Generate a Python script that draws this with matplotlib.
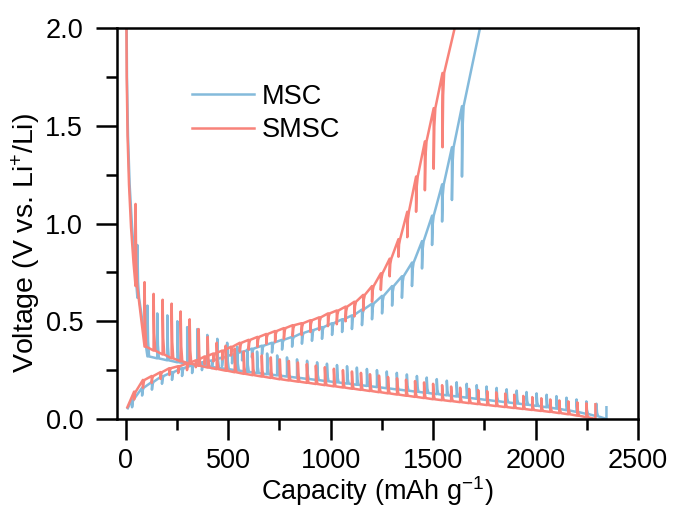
import matplotlib
matplotlib.use("Agg")
import matplotlib.pyplot as plt
from matplotlib.ticker import MultipleLocator

plt.rcParams['font.family'] = ['Liberation Sans', 'DejaVu Sans']
plt.rcParams['mathtext.fontset'] = 'custom'
plt.rcParams['mathtext.rm'] = 'Liberation Sans'
plt.rcParams['mathtext.it'] = 'Liberation Sans:italic'

# GITT data: pulse-end capacity, pulse-end voltage (base), relaxed voltage (tip)
# MSC discharge
msc_dis_head_c = [4, 6, 11, 19, 31, 45]
msc_dis_head_v = [2.1, 1.75, 1.45, 1.2, 0.98, 0.78]
msc_dis_c = [57, 106, 154, 203, 252, 300, 349, 398, 447, 495,
             544, 593, 641, 690, 739, 787, 836, 885, 934, 982,
             1031, 1080, 1128, 1177, 1226, 1274, 1323, 1372, 1421, 1469,
             1518, 1567, 1615, 1664, 1713, 1761, 1810, 1859, 1908, 1956,
             2005, 2054, 2102, 2151, 2200, 2248, 2297, 2346]
msc_dis_base = [0.62, 0.32, 0.31, 0.30, 0.29, 0.283, 0.276, 0.269, 0.262, 0.255,
                0.248, 0.241, 0.235, 0.229, 0.223, 0.217, 0.211, 0.205, 0.199, 0.193,
                0.187, 0.181, 0.175, 0.169, 0.163, 0.157, 0.151, 0.145, 0.139, 0.133,
                0.127, 0.121, 0.115, 0.109, 0.103, 0.097, 0.091, 0.085, 0.079, 0.073,
                0.067, 0.06, 0.053, 0.045, 0.036, 0.026, 0.014, 0.0]
msc_dis_tip = [0.89, 0.58, 0.54, 0.53, 0.50, 0.47, 0.46, 0.43, 0.41, 0.39,
               0.37, 0.355, 0.345, 0.335, 0.325, 0.315, 0.305, 0.298, 0.29, 0.283,
               0.276, 0.27, 0.263, 0.256, 0.25, 0.243, 0.236, 0.228, 0.22, 0.212,
               0.204, 0.196, 0.188, 0.18, 0.173, 0.166, 0.159, 0.152, 0.145, 0.138,
               0.131, 0.124, 0.117, 0.109, 0.1, 0.09, 0.078, 0.06]

# MSC charge
msc_chg_head_c = [10]
msc_chg_head_v = [0.055]
msc_chg_c = [31, 80, 128, 177, 226, 275, 324, 372, 421, 470,
             519, 568, 616, 665, 714, 763, 812, 860, 909, 958,
             1007, 1056, 1104, 1153, 1202, 1251, 1300, 1348, 1397, 1446,
             1495, 1544, 1592, 1641]
msc_chg_base = [0.10, 0.16, 0.19, 0.22, 0.24, 0.26, 0.275, 0.29, 0.30, 0.315,
                0.33, 0.345, 0.36, 0.375, 0.39, 0.405, 0.42, 0.44, 0.455, 0.47,
                0.49, 0.51, 0.53, 0.56, 0.59, 0.63, 0.68, 0.73, 0.80, 0.91,
                1.04, 1.20, 1.39, 1.60]
msc_chg_tip = [0.06, 0.12, 0.15, 0.18, 0.20, 0.22, 0.235, 0.25, 0.26, 0.27,
               0.285, 0.30, 0.315, 0.33, 0.34, 0.355, 0.37, 0.385, 0.40, 0.41,
               0.43, 0.445, 0.46, 0.48, 0.51, 0.54, 0.58, 0.62, 0.68, 0.77,
               0.89, 1.01, 1.12, 1.24]
msc_chg_tail_c = [1733]
msc_chg_tail_v = [2.02]

# SMSC discharge
smsc_dis_head_c = [3, 5, 9, 16, 26, 38]
smsc_dis_head_v = [2.1, 1.75, 1.45, 1.2, 0.98, 0.8]
smsc_dis_c = [48, 92, 136, 180, 224, 268, 312, 356, 400, 444,
              488, 532, 576, 620, 664, 708, 752, 796, 840, 884,
              928, 972, 1016, 1060, 1104, 1148, 1192, 1236, 1280, 1324,
              1368, 1412, 1456, 1500, 1544, 1588, 1632, 1676, 1720, 1764,
              1808, 1852, 1896, 1940, 1984, 2028, 2072, 2116, 2160, 2204,
              2248, 2292]
smsc_dis_base = [0.68, 0.37, 0.35, 0.33, 0.31, 0.295, 0.283, 0.272, 0.263, 0.255,
                 0.247, 0.239, 0.231, 0.224, 0.217, 0.21, 0.203, 0.197, 0.191, 0.185,
                 0.179, 0.173, 0.167, 0.161, 0.155, 0.149, 0.143, 0.137, 0.131, 0.125,
                 0.119, 0.113, 0.107, 0.101, 0.096, 0.091, 0.086, 0.081, 0.076, 0.071,
                 0.066, 0.061, 0.056, 0.051, 0.046, 0.041, 0.036, 0.03, 0.024, 0.017,
                 0.009, 0.0]
smsc_dis_tip = [1.10, 0.70, 0.64, 0.61, 0.59, 0.55, 0.51, 0.46, 0.42, 0.39,
                0.375, 0.36, 0.345, 0.335, 0.325, 0.315, 0.305, 0.297, 0.289, 0.281,
                0.273, 0.265, 0.257, 0.25, 0.243, 0.236, 0.229, 0.222, 0.215, 0.208,
                0.201, 0.194, 0.187, 0.18, 0.173, 0.166, 0.16, 0.154, 0.148, 0.142,
                0.136, 0.13, 0.124, 0.118, 0.112, 0.106, 0.1, 0.095, 0.09, 0.085,
                0.08, 0.075]

# SMSC charge
smsc_chg_head_c = [8]
smsc_chg_head_v = [0.06]
smsc_chg_c = [41, 84, 127, 170, 213, 256, 299, 342, 385, 428,
              471, 514, 557, 600, 643, 686, 729, 772, 815, 858,
              901, 944, 987, 1030, 1073, 1116, 1159, 1202, 1245, 1288,
              1331, 1374, 1417, 1460, 1503, 1546]
smsc_chg_base = [0.14, 0.20, 0.22, 0.24, 0.26, 0.27, 0.285, 0.30, 0.32, 0.335,
                 0.35, 0.37, 0.39, 0.405, 0.42, 0.435, 0.45, 0.465, 0.48, 0.49,
                 0.505, 0.52, 0.54, 0.555, 0.575, 0.60, 0.635, 0.68, 0.745, 0.82,
                 0.92, 1.06, 1.24, 1.42, 1.59, 1.77]
smsc_chg_tip = [0.10, 0.16, 0.185, 0.205, 0.225, 0.235, 0.25, 0.265, 0.28, 0.295,
                0.305, 0.325, 0.345, 0.355, 0.37, 0.385, 0.395, 0.41, 0.425, 0.43,
                0.445, 0.455, 0.475, 0.485, 0.5, 0.525, 0.555, 0.6, 0.66, 0.73,
                0.83, 0.93, 1.06, 1.17, 1.28, 1.39]
smsc_chg_tail_c = [1610]
smsc_chg_tail_v = [2.02]

MSC_COLOR = '#84BADB'
SMSC_COLOR = '#F8837A'
FS = 19.5


def gitt_path(head_c, head_v, c, base, tip, tail_c=(), tail_v=()):
    # pulse end -> relaxation -> current back on, for every titration step
    xs, ys = list(head_c), list(head_v)
    for i, (ci, b, t) in enumerate(zip(c, base, tip)):
        xs += [ci, ci]
        ys += [b, t]
        if i < len(c) - 1 or len(tail_c):
            xs += [ci + 3, ci + 8]
            ys += [b + 0.3 * (t - b), b]
    xs += list(tail_c)
    ys += list(tail_v)
    return xs, ys


fig = plt.figure(figsize=(6.75, 5.09), dpi=100)
ax = fig.add_axes([116.5 / 675, 1 - 419 / 509, 521.5 / 675, 391 / 509])

x, y = gitt_path(msc_dis_head_c, msc_dis_head_v, msc_dis_c, msc_dis_base, msc_dis_tip)
ax.plot(x, y, color=MSC_COLOR, lw=1.8, label='MSC')
x, y = gitt_path(msc_chg_head_c, msc_chg_head_v, msc_chg_c, msc_chg_base, msc_chg_tip,
                 msc_chg_tail_c, msc_chg_tail_v)
ax.plot(x, y, color=MSC_COLOR, lw=1.8)

x, y = gitt_path(smsc_dis_head_c, smsc_dis_head_v, smsc_dis_c, smsc_dis_base, smsc_dis_tip)
ax.plot(x, y, color=SMSC_COLOR, lw=1.8, label='SMSC')
x, y = gitt_path(smsc_chg_head_c, smsc_chg_head_v, smsc_chg_c, smsc_chg_base, smsc_chg_tip,
                 smsc_chg_tail_c, smsc_chg_tail_v)
ax.plot(x, y, color=SMSC_COLOR, lw=1.8)

ax.set_xlim(-45, 2500)
ax.set_ylim(0, 2.0)
ax.xaxis.set_major_locator(MultipleLocator(500))
ax.xaxis.set_minor_locator(MultipleLocator(250))
ax.yaxis.set_major_locator(MultipleLocator(0.5))
ax.yaxis.set_minor_locator(MultipleLocator(0.25))
ax.yaxis.set_major_formatter(matplotlib.ticker.FormatStrFormatter('%.1f'))

ax.tick_params(which='both', direction='out', width=1.8, labelsize=FS,
               top=False, right=False)
ax.tick_params(which='major', length=15)
ax.tick_params(which='minor', length=8)
ax.tick_params(axis='x', which='major', pad=6)
ax.tick_params(axis='y', which='major', pad=9)
for s in ax.spines.values():
    s.set_linewidth(1.8)

ax.set_xlabel('Capacity (mAh g$^{-1}$)', fontsize=FS, labelpad=0)
ax.set_ylabel('Voltage (V vs. Li$^{+}$/Li)', fontsize=20.5)
ax.yaxis.set_label_coords(-0.14, 0.45)

ax.legend(loc='upper left', bbox_to_anchor=(0.144, 0.858), frameon=False,
          fontsize=FS, handlelength=2.3, handletextpad=0.3, labelspacing=0.28,
          borderpad=0, borderaxespad=0)

fig.savefig('out.png', dpi=100)
